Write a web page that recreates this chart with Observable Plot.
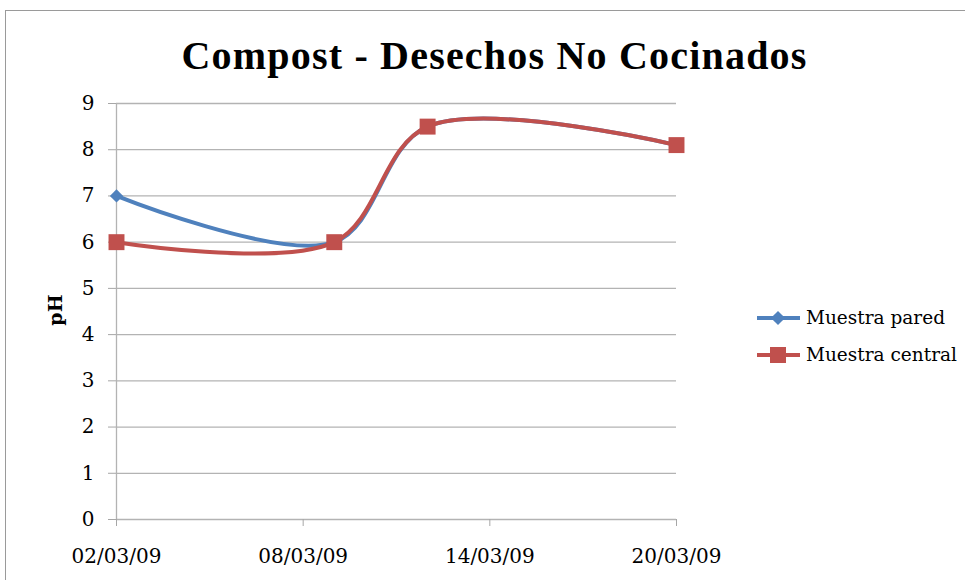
<!DOCTYPE html>
<html>
<head>
<meta charset="utf-8">
<script src="https://cdn.jsdelivr.net/npm/d3@7"></script>
<script src="https://cdn.jsdelivr.net/npm/@observablehq/plot@0.6"></script>
<style>
  body { margin: 0; background: #fff; overflow: hidden; }
  #wrap { position: relative; width: 965px; height: 580px; overflow: hidden; }
  #frame { position: absolute; left: 5px; top: 10px; width: 980px; height: 590px; border: 1px solid #9a9a9a; box-sizing: border-box; }
  #title { position: absolute; left: 0; width: 989px; top: 32px; text-align: center; font: bold 40px "Liberation Serif", serif; letter-spacing: 1.2px; color: #000; white-space: nowrap; }
  #ylabel { position: absolute; left: 55px; top: 310px; transform: translate(-50%, -50%) rotate(-90deg); font: bold 19px "DejaVu Serif", serif; white-space: nowrap; }
  #legend { position: absolute; left: 757px; top: 299px; font: 18.5px "DejaVu Serif", serif; }
  .item { display: flex; align-items: center; height: 37px; }
  .item svg { margin-right: 6px; }
  #chart { position: absolute; left: 0; top: 0; }
</style>
</head>
<body>
<div id="wrap">
  <div id="frame"></div>
  <div id="chart"></div>
  <div id="title">Compost - Desechos No Cocinados</div>
  <div id="ylabel">pH</div>
  <div id="legend"></div>
</div>
<script>
const fechas = ["2009-03-02", "2009-03-09", "2009-03-12", "2009-03-20"];
const pared = [7, 6, 8.5, 8.1];
const central = [6, 6, 8.5, 8.1];
const series = ["Muestra pared", "Muestra central"];
const colores = ["#4F81BD", "#C0504D"];
const simbolos = ["diamond2", "square"];
const xTicks = ["2009-03-02", "2009-03-08", "2009-03-14", "2009-03-20"];
const yTicks = [0, 1, 2, 3, 4, 5, 6, 7, 8, 9];

const parse = d3.utcParse("%Y-%m-%d");
const valores = [pared, central];
const data = [];
series.forEach((s, i) => {
  fechas.forEach((f, j) => data.push({ serie: s, fecha: parse(f), ph: valores[i][j] }));
});
const xTickDates = xTicks.map(parse);

const marks = [
  Plot.gridY(yTicks, { stroke: "#b3b3b3", strokeOpacity: 1, strokeWidth: 1.3 }),
  Plot.ruleX([xTickDates[0]], { stroke: "#b3b3b3", strokeWidth: 1.3 }),
  Plot.axisY(yTicks, { tickSize: 8, tickPadding: 14, stroke: "#a6a6a6", strokeOpacity: 1, fill: "#000", label: null, fontSize: 20 }),
  Plot.axisX(xTickDates, { tickSize: 7, tickPadding: 22, stroke: "#a6a6a6", strokeOpacity: 1, fill: "#000", label: null, fontSize: 20, tickFormat: d3.utcFormat("%d/%m/%y") })
];
series.forEach((s, i) => {
  const d = data.filter(r => r.serie === s);
  marks.push(Plot.line(d, { x: "fecha", y: "ph", stroke: colores[i], strokeWidth: 4, curve: "catmull-rom" }));
  marks.push(Plot.dot(d, { x: "fecha", y: "ph", fill: colores[i], stroke: "none", symbol: simbolos[i], r: i === 0 ? 6 : 9 }));
});

const chart = Plot.plot({
  width: 965,
  height: 580,
  marginLeft: 116,
  marginRight: 289,
  marginTop: 103,
  marginBottom: 61,
  x: { type: "utc", domain: [xTickDates[0], xTickDates[xTickDates.length - 1]] },
  y: { domain: [0, 9] },
  style: { fontFamily: "DejaVu Serif", fontSize: "20px", background: "transparent", color: "#000" },
  marks
});
document.getElementById("chart").appendChild(chart);

const legend = document.getElementById("legend");
series.forEach((s, i) => {
  const item = document.createElement("div");
  item.className = "item";
  const sym = i === 0
    ? `<rect x="16" y="5" width="10" height="10" transform="rotate(45 21 10)" fill="${colores[i]}"/>`
    : `<rect x="13" y="2" width="16" height="16" fill="${colores[i]}"/>`;
  item.innerHTML = `<svg width="43" height="20"><line x1="0" x2="43" y1="10" y2="10" stroke="${colores[i]}" stroke-width="4"/>${sym}</svg><span>${s}</span>`;
  legend.appendChild(item);
});
</script>
</body>
</html>
